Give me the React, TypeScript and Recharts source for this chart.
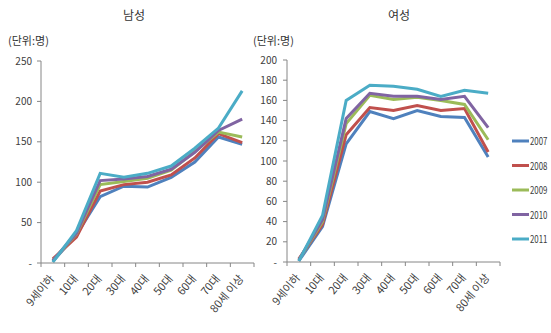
import { Line, LineChart, XAxis, YAxis } from 'recharts'

const categories = ['9세이하', '10대', '20대', '30대', '40대', '50대', '60대', '70대', '80세 이상']
const years = ['2007', '2008', '2009', '2010', '2011']
const colors = ['#4F81BD', '#C0504D', '#9BBB59', '#8064A2', '#4BACC6']

// 남성
const m2007 = [2, 35, 82, 95, 94, 106, 125, 156, 147]
const m2008 = [5, 32, 89, 97, 100, 109, 130, 160, 149]
const m2009 = [3, 36, 97, 101, 105, 115, 138, 162, 156]
const m2010 = [3, 37, 102, 104, 107, 116, 137, 164, 178]
const m2011 = [1, 40, 111, 106, 111, 120, 142, 167, 213]

// 여성
const w2007 = [1, 35, 117, 149, 142, 150, 144, 143, 104]
const w2008 = [3, 37, 126, 153, 150, 155, 150, 152, 109]
const w2009 = [2, 40, 137, 165, 161, 163, 160, 156, 121]
const w2010 = [2, 42, 142, 167, 164, 164, 161, 164, 133]
const w2011 = [1, 46, 160, 175, 174, 171, 164, 170, 167]

const menTicks = [0, 50, 100, 150, 200, 250]
const womenTicks = [0, 20, 40, 60, 80, 100, 120, 140, 160, 180, 200]

function build(series: number[][]) {
  return categories.map((c, i) => {
    const row: Record<string, string | number> = { cat: c }
    years.forEach((y, k) => (row[y] = series[k][i]))
    return row
  })
}

const menData = build([m2007, m2008, m2009, m2010, m2011])
const womenData = build([w2007, w2008, w2009, w2010, w2011])

const FONT = '"Noto Sans CJK KR", "Noto Sans", sans-serif'
const AXIS = '#868686'
const PLOT_W = 213
const HALF = PLOT_W / categories.length / 2

function CatTick(props: any) {
  const { x, y, payload, index } = props
  const last = index === categories.length - 1
  const tx = x + 2
  const ty = y + 16
  return (
    <g>
      <line x1={x - HALF} x2={x - HALF} y1={y} y2={y + 4} stroke={AXIS} />
      {last && <line x1={x + HALF} x2={x + HALF} y1={y} y2={y + 4} stroke={AXIS} />}
      <text
        x={tx}
        y={ty}
        textAnchor="end"
        fontSize={11}
        fill="#404040"
        fontFamily={FONT}
        transform={`rotate(-50 ${tx} ${ty})`}
      >
        {payload.value}
      </text>
    </g>
  )
}

// legend squeezed into the narrow strip at the right edge
function LegendBox() {
  return (
    <svg width={39} height={125}>
      {years.map((y, i) => (
        <g key={y} transform={`translate(0 ${12 + i * 24.5})`}>
          <line x1={0} x2={17} y1={0} y2={0} stroke={colors[i]} strokeWidth={3} />
          <text
            fontSize={10.5}
            fill="#404040"
            fontFamily={FONT}
            transform="translate(18 4) scale(0.75 1)"
          >
            {y}
          </text>
        </g>
      ))}
    </svg>
  )
}

function Panel(props: {
  data: any[]
  width: number
  top: number
  bottom: number
  right: number
  yWidth: number
  max: number
  ticks: number[]
  tickMargin: number
}) {
  const { data, width, top, bottom, right, yWidth, max, ticks, tickMargin } = props
  return (
    <LineChart width={width} height={333} data={data} margin={{ top, right, left: 0, bottom: 0 }}>
      <XAxis
        dataKey="cat"
        height={bottom}
        interval={0}
        tick={<CatTick />}
        tickLine={false}
        tickSize={0}
        tickMargin={0}
        stroke={AXIS}
        padding={{ left: HALF, right: HALF }}
      />
      <YAxis
        width={yWidth}
        domain={[0, max]}
        ticks={ticks}
        interval={0}
        tickSize={4}
        tickMargin={tickMargin}
        stroke={AXIS}
        tick={{ fontSize: 10, fill: '#404040', fontFamily: FONT }}
        tickFormatter={(v: number) => (v === 0 ? '-' : String(v))}
      />
      {years.map((y, i) => (
        <Line
          key={y}
          dataKey={y}
          stroke={colors[i]}
          strokeWidth={3}
          dot={false}
          isAnimationActive={false}
        />
      ))}
    </LineChart>
  )
}

export default function App() {
  const txt = { position: 'absolute' as const, fontFamily: FONT, color: '#333', whiteSpace: 'nowrap' as const }
  return (
    <div style={{ position: 'absolute', left: 0, top: 0, width: 551, height: 333, background: '#fff' }}>
      <div style={{ position: 'absolute', left: 0, top: 0 }}>
        <Panel data={menData} width={270} top={61} bottom={70} right={16} yWidth={41} max={250} ticks={menTicks} tickMargin={5} />
      </div>
      <div style={{ position: 'absolute', left: 245, top: 0 }}>
        <Panel data={womenData} width={306} top={60} bottom={71} right={51} yWidth={42} max={200} ticks={womenTicks} tickMargin={6} />
      </div>
      <div style={{ ...txt, left: 123, top: 6, fontSize: 12 }}>남성</div>
      <div style={{ ...txt, left: 388, top: 6, fontSize: 12 }}>여성</div>
      <div style={{ ...txt, left: 8, top: 32, fontSize: 11 }}>(단위:명)</div>
      <div style={{ ...txt, left: 253, top: 32, fontSize: 11 }}>(단위:명)</div>
      <div style={{ position: 'absolute', left: 512, top: 129, lineHeight: 0 }}>
        <LegendBox />
      </div>
    </div>
  )
}
